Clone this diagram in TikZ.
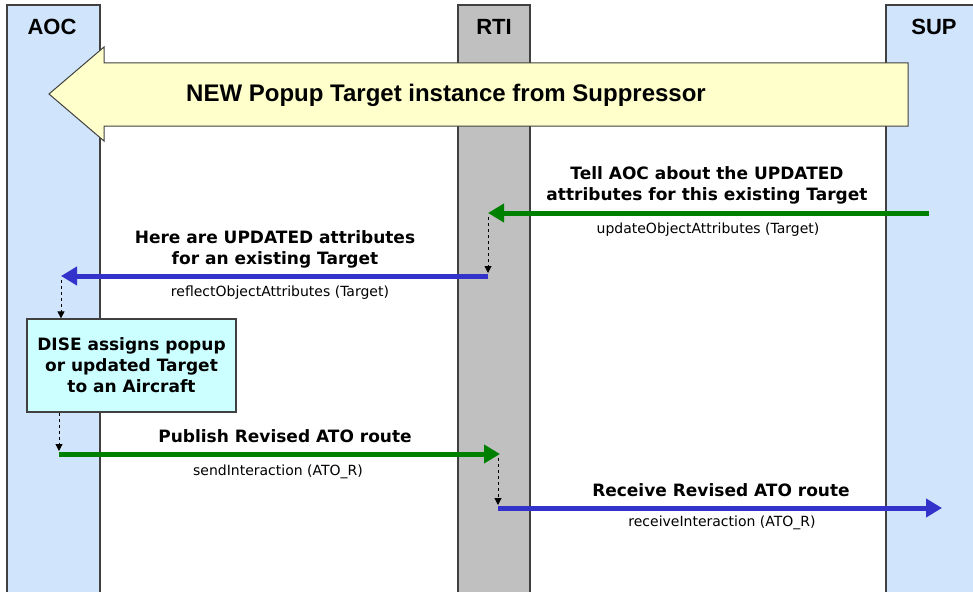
\documentclass[tikz,border=0pt]{standalone}
\usepackage{fontspec}
\setmainfont{DejaVu Sans}
\newfontfamily\arialfont{Liberation Sans}
\usetikzlibrary{arrows.meta}

\definecolor{laneblue}{HTML}{D0E4FB}
\definecolor{rtigray}{HTML}{C0C0C0}
\definecolor{bannerfill}{HTML}{FFFFCC}
\definecolor{notefill}{HTML}{CCFFFF}
\definecolor{edgegray}{HTML}{404040}
\definecolor{pubgreen}{HTML}{008000}
\definecolor{subblue}{HTML}{3333CC}

\tikzset{
  lane/.style={draw=edgegray, line width=1.3pt},
  lanename/.style={font=\arialfont\fontsize{22}{24}\selectfont\bfseries},
  msg/.style={font=\fontsize{17}{21}\selectfont\bfseries, align=center},
  call/.style={font=\fontsize{14}{16}\selectfont},
  pub/.style={draw=pubgreen, line width=5pt, -{Triangle[length=16pt,width=18pt]}},
  sub/.style={draw=subblue, line width=5pt, -{Triangle[length=16pt,width=18pt]}},
  hop/.style={draw=black, dashed, line width=1pt, -{Triangle[length=7pt,width=7pt]}},
  note/.style={draw=edgegray, line width=1.3pt, fill=notefill, minimum width=209pt,
    minimum height=93pt, align=center, font=\fontsize{17}{21}\selectfont\bfseries},
}

\begin{document}
\begin{tikzpicture}[x=1pt, y=-1pt]
  \useasboundingbox[fill=white] (0,0) rectangle (973,591);

  % federates and the RTI
  \draw[lane, fill=laneblue] (7,5) rectangle (100,600);
  \draw[lane, fill=rtigray] (458,5) rectangle (530,600);
  \draw[lane, fill=laneblue] (886,5) rectangle (990,600);
  \node[lanename] (aoc) at (52,27) {AOC};
  \node[lanename] (rti) at (494,27) {RTI};
  \node[lanename] (sup) at (934,27) {SUP};

  % banner arrow
  \draw[draw=edgegray, line width=1pt, fill=bannerfill]
    (908,63) -- (104,63) -- (104,47) -- (49,94) -- (104,141) -- (104,126) -- (908,126) -- cycle;
  \node[font=\arialfont\fontsize{24}{26}\selectfont\bfseries] (banner) at (446,95)
    {NEW Popup Target instance from Suppressor};

  % end points on the lifelines
  \coordinate (sup1) at (929,213);
  \coordinate (rti1) at (488,213);
  \coordinate (rti2) at (488,276);
  \coordinate (aoc1) at (61,276);
  \coordinate (aoc2) at (59,454);
  \coordinate (rti3) at (500,454);
  \coordinate (rti4) at (498,508);
  \coordinate (sup2) at (942,508);

  % update from SUP
  \draw[pub] (sup1) -- (rti1);
  \node[msg] (m1) at (707,185) {Tell AOC about the UPDATED\\attributes for this existing Target};
  \node[call] (c1) at (708,230) {updateObjectAttributes (Target)};
  \draw[hop] ([yshift=-4pt]rti1) -- ([yshift=3pt]rti2);

  % reflected to AOC
  \draw[sub] (rti2) -- (aoc1);
  \node[msg] (m2) at (275,249) {Here are UPDATED attributes\\for an existing Target};
  \node[call] (c2) at (280,293) {reflectObjectAttributes (Target)};

  \node[note] (dise) at (131.5,365.5) {DISE assigns popup\\or updated Target\\to an Aircraft};
  \draw[hop] ([yshift=-4pt]aoc1) -- (aoc1 |- dise.north);
  \draw[hop] (aoc2 |- dise.south) -- ([yshift=3pt]aoc2);

  % revised route out
  \draw[pub] (aoc2) -- (rti3);
  \node[msg] (m3) at (285,436) {Publish Revised ATO route};
  \node[call] (c3) at (278,472) {sendInteraction (ATO\_R)};
  \draw[hop] ([xshift=-2pt,yshift=-4pt]rti3) -- ([yshift=3pt]rti4);

  \draw[sub] (rti4) -- (sup2);
  \node[msg] (m4) at (721,490) {Receive Revised ATO route};
  \node[call] (c4) at (722,523) {receiveInteraction (ATO\_R)};
\end{tikzpicture}
\end{document}
